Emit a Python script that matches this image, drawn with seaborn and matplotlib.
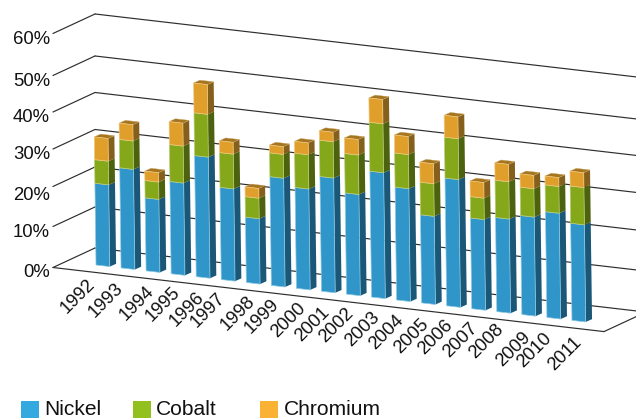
import numpy as np
import pandas as pd
import matplotlib
matplotlib.use('Agg')
import matplotlib.pyplot as plt
from matplotlib.patches import Polygon, Rectangle
from matplotlib.transforms import Affine2D, IdentityTransform
import seaborn as sns

years = ['1992', '1993', '1994', '1995', '1996', '1997', '1998', '1999', '2000', '2001',
         '2002', '2003', '2004', '2005', '2006', '2007', '2008', '2009', '2010', '2011']
nickel = [20.2, 25.1, 18.0, 23.0, 30.7, 23.0, 16.1, 27.4, 25.3, 29.0,
          25.4, 32.0, 28.5, 21.9, 32.5, 22.6, 23.5, 24.8, 26.6, 24.3]
cobalt = [6.3, 7.6, 4.5, 9.9, 11.6, 9.3, 5.2, 6.4, 9.2, 9.8,
          10.6, 13.3, 9.2, 8.7, 11.1, 5.7, 10.0, 7.6, 7.2, 10.0]
chromium = [6.1, 4.4, 2.5, 6.2, 8.1, 3.2, 2.6, 2.1, 3.2, 2.6,
            4.2, 6.4, 4.9, 5.4, 6.0, 4.2, 4.7, 3.6, 2.4, 4.0]
pct_ticks = [0, 10, 20, 30, 40, 50, 60]

# printed height of the axis, gridlines are not quite evenly spaced in the picture
scale_v = [-50, 0, 10, 20, 30, 40, 50, 60, 120]
scale_h = [-195, 0, 41, 81, 118.5, 155.5, 192, 234, 468]

df = pd.DataFrame({'year': years, 'Nickel': nickel, 'Cobalt': cobalt, 'Chromium': chromium})
df['b1'] = df['Nickel']
df['b2'] = df['Nickel'] + df['Cobalt']

front = {'Nickel': '#3095c8', 'Cobalt': '#85a81b', 'Chromium': '#e09f2a'}
side = {'Nickel': '#1b5878', 'Cobalt': '#4c620f', 'Chromium': '#85601c'}
swatch = {'Nickel': '#33a9e0', 'Cobalt': '#92c01f', 'Chromium': '#f9b233'}
edge = {'Nickel': '#8ecbe6', 'Cobalt': '#b8cc78', 'Chromium': '#f0c880'}
top_color = '#a5751f'
line_color = '#2e2e2e'

sns.set_style('white')
plt.rcParams['font.family'] = ['Liberation Sans', 'DejaVu Sans']

W, H = 636, 418
fig = plt.figure(figsize=(W / 100, H / 100), dpi=100)
ax = fig.add_axes([0, 0, 1, 1])

sns.barplot(data=df, x='year', y='Nickel', color=front['Nickel'], width=0.55, saturation=1, ax=ax)
sns.barplot(data=df, x='year', y='Cobalt', bottom=df['b1'].values, color=front['Cobalt'], width=0.55, saturation=1, ax=ax)
sns.barplot(data=df, x='year', y='Chromium', bottom=df['b2'].values, color=front['Chromium'], width=0.55, saturation=1, ax=ax)


def fwd(v):
    return np.interp(v, scale_v, scale_h)


def inv(h):
    return np.interp(h, scale_h, scale_v)


ax.set_yscale('function', functions=(fwd, inv))
ax.set_xlim((0 - 102.9) / 25.05, (W - 102.9) / 25.05)
ax.set_ylim(inv(265 - H), inv(265))
ax.set_axis_off()

# oblique look: floor slopes down to the right, bars lean slightly left
x0, y0 = 96, H - 265
slope = -0.1163
lean = -0.0135
skew_grid = Affine2D(np.array([[1, 0, 0], [slope, 1, -slope * x0], [0, 0, 1]]))
skew_bar = Affine2D(np.array([[1, lean, -lean * y0], [slope, 1, -slope * x0], [0, 0, 1]]))
tf_bar = ax.transData + skew_bar
tf_grid = ax.transData + skew_grid
depth = np.array([42, 19.5])
bar_depth = np.array([6.3, 2.8])
t_front, t_back = -0.308, 0.693
x_left, x_right = -1.477, 20.52


def wall(x, v, t):
    return tf_grid.transform([(x, v)])[0] + depth * t


def line(a, b):
    ax.add_line(plt.Line2D([a[0], b[0]], [a[1], b[1]], color=line_color, lw=0.85,
                           transform=IdentityTransform(), zorder=1))


for v in pct_ticks:
    line(wall(x_left, v, t_front), wall(x_left, v, t_back))
    line(wall(x_left, v, t_back), wall(x_right, v, t_back))
line(wall(x_left, 0, t_front), wall(x_right, 0, t_front))
line(wall(x_right, 0, t_front), wall(x_right, 0, t_back))

names = ['Nickel', 'Cobalt', 'Chromium']
for k, name in enumerate(names):
    for i, rect in enumerate(ax.containers[k]):
        rect.set_transform(tf_bar)
        rect.set_edgecolor(edge[name])
        rect.set_linewidth(0.5)
        rect.set_zorder(3 + i + 0.1)
        x, w = rect.get_x(), rect.get_width()
        b, h = rect.get_y(), rect.get_height()
        p = tf_bar.transform([(x + w, b), (x + w, b + h)])
        ax.add_patch(Polygon(np.vstack([p, p[::-1] + bar_depth]), closed=True, facecolor=side[name],
                             edgecolor='none', transform=IdentityTransform(), zorder=3 + i))
        if name == 'Chromium':
            q = tf_bar.transform([(x, b + h), (x + w, b + h)])
            ax.add_patch(Polygon(np.vstack([q, q[::-1] + bar_depth]), closed=True, facecolor=top_color,
                                 edgecolor='#c9a766', lw=0.3, transform=IdentityTransform(), zorder=3 + i))

# tick labels, pixel anchors (x, y from top)
pct_label_y = [272.3, 232.7, 196, 154.3, 117.7, 81.7, 40]
for v, y in zip(pct_ticks, pct_label_y):
    ax.text(50, H - y, f'{v}%', transform=IdentityTransform(), ha='right', va='center',
            fontsize=13.3, color='#111111')

year_label_x = [95, 124, 154, 181, 205, 225.7, 255, 279, 305.7, 330,
                354, 380, 404, 429, 453, 478, 504, 531, 552, 582]
year_label_y = [279, 282.7, 286, 287, 291.7, 292.7, 296, 299, 303, 307,
                308, 311.7, 314.7, 319, 320, 323, 324, 331.7, 332.7, 336.7]
for lab, x, y in zip(years, year_label_x, year_label_y):
    ax.text(x - 3, H - y - 3, lab, transform=IdentityTransform(), ha='right', va='center',
            rotation=45, rotation_mode='anchor', fontsize=13.3, color='#111111')

# legend
for name, sx, tx in zip(names, [21, 133, 260], [44, 156, 284]):
    ax.add_patch(Rectangle((sx, 0), 18, 17, facecolor=swatch[name], edgecolor='none',
                           transform=IdentityTransform(), clip_on=False))
    ax.text(tx, H - 409.5, name, transform=IdentityTransform(), ha='left', va='center',
            fontsize=15.1, color='#111111')

fig.savefig('out.png', dpi=100)
